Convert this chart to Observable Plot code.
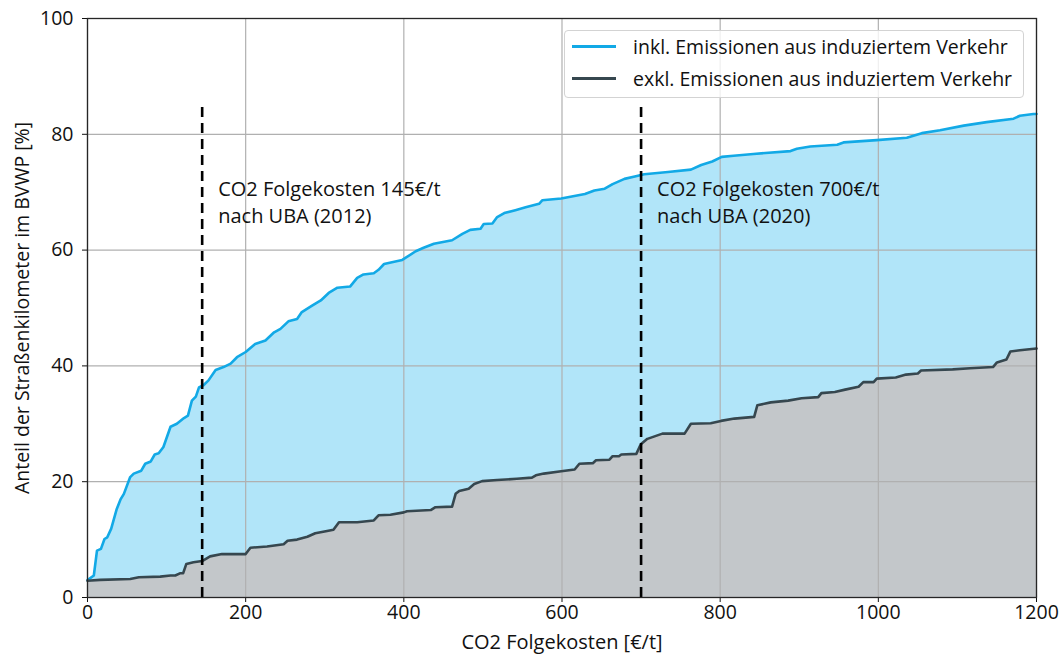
<!DOCTYPE html>
<html>
<head>
<meta charset="utf-8">
<script src="https://cdn.jsdelivr.net/npm/d3@7"></script>
<script src="https://cdn.jsdelivr.net/npm/@observablehq/plot@0.6"></script>
<style>
  html, body { margin: 0; padding: 0; background: white; }
  #wrap { position: relative; width: 1061px; height: 662px; font-family: "Open Sans", sans-serif; }
  #legend { position: absolute; left: 564px; top: 30px; width: 460px; height: 68px;
    border: 1px solid #d3d3d3; border-radius: 4px; background: rgba(255,255,255,0.8);
    box-sizing: border-box; font-size: 19.5px; color: #111; }
  .row { position: absolute; left: 0; height: 28px; width: 100%; }
  .sw { position: absolute; left: 7px; top: 12px; width: 44px; height: 3px; }
  .lbl { position: absolute; left: 68px; top: 0; line-height: 28px; white-space: nowrap; }
</style>
</head>
<body>
<div id="wrap"><div id="legend"></div></div>
<script>
// Data
const costIncl = [0,8,12,17,21.5,25,30,37,42,46,54,58.5,68,73,80,85,90,96,105,113,122,127,132,137,141,147,153,162,172,181,189,200,212,225,236,244,254,265,271,284,295,305,316,332,341,349,362,368,375,385,398,415,425,438,461,474,484,497,501,512,518,527,541,554,571,575,599,614,629,641,654,664,679,692,704,734,763,776,790,802,817,842,889,897,914,948,956,998,1036,1055,1078,1108,1137,1171,1179,1196,1200];
const shareIncl = [3.0,3.8,8.1,8.4,10.1,10.4,11.9,15.3,17.0,17.9,20.8,21.4,21.9,23.1,23.5,24.7,24.9,26.0,29.5,30.0,31.0,31.4,34.0,34.7,36.3,36.7,37.5,39.3,39.8,40.4,41.5,42.4,43.8,44.4,45.8,46.4,47.7,48.1,49.3,50.4,51.3,52.6,53.5,53.7,55.2,55.8,56.0,56.6,57.6,57.9,58.3,59.8,60.4,61.1,61.7,62.8,63.5,63.7,64.5,64.6,65.7,66.4,66.9,67.4,68.0,68.6,68.9,69.3,69.7,70.3,70.6,71.4,72.3,72.7,73.1,73.5,73.9,74.7,75.3,76.1,76.3,76.6,77.1,77.5,77.9,78.2,78.6,79.0,79.4,80.2,80.7,81.5,82.1,82.7,83.2,83.5,83.5];

const costExcl = [0,16,54,65,92,105,111,117.5,121,125,134,145,155,170,200,206,227,248,253,265,278,288,303,311,318,341,362,368,383,400,404,434,440,461,465.5,470,482,489,499,518,543,562,567,577,599,616,622,639,643,660,664,672,675,694,698,700,708,727,755,763,788,801,818,843,847,864,886,903,924,928,945,958,975,981,994,998,1022,1035,1050,1054,1094,1116,1145,1150,1162,1167,1179,1200];
const shareExcl = [2.9,3.05,3.2,3.5,3.6,3.8,3.8,4.2,4.2,5.8,6.1,6.3,7.1,7.5,7.5,8.6,8.8,9.2,9.8,10.0,10.5,11.1,11.5,11.7,13.0,13.0,13.3,14.2,14.3,14.7,14.9,15.1,15.6,15.7,17.9,18.4,18.8,19.6,20.1,20.3,20.5,20.7,21.1,21.4,21.8,22.1,23.1,23.2,23.7,23.8,24.4,24.4,24.7,24.8,26.0,26.5,27.4,28.3,28.3,30.0,30.1,30.5,30.9,31.2,33.2,33.7,34.0,34.4,34.6,35.3,35.5,35.9,36.4,37.2,37.2,37.8,38.0,38.5,38.7,39.2,39.4,39.6,39.8,40.6,41.1,42.5,42.7,43.0];

const thresholds = [145, 700];
const thresholdTop = 85;
const annotationLine1 = ["CO2 Folgekosten 145€/t", "CO2 Folgekosten 700€/t"];
const annotationLine2 = ["nach UBA (2012)", "nach UBA (2020)"];
const annotationY = 68.2;

const xTicks = [0, 200, 400, 600, 800, 1000, 1200];
const yTicks = [0, 20, 40, 60, 80, 100];
const seriesNames = ["inkl. Emissionen aus induziertem Verkehr", "exkl. Emissionen aus induziertem Verkehr"];
const xLabel = "CO2 Folgekosten [€/t]";
const yLabel = "Anteil der Straßenkilometer im BVWP [%]";

const colors = { inclLine: "#12a9e6", inclFill: "#b1e5f9", exclLine: "#36474f", exclFill: "#c3c7ca", grid: "#b0b0b0" };
const FS = 19.5;
const FSL = 20;

const incl = costIncl.map((c, i) => ({ cost: c, share: shareIncl[i] }));
const excl = costExcl.map((c, i) => ({ cost: c, share: shareExcl[i] }));
const ann1 = thresholds.map((t, i) => ({ x: t, y: annotationY, label: annotationLine1[i] }));
const ann2 = thresholds.map((t, i) => ({ x: t, y: annotationY, label: annotationLine2[i] }));

const chart = Plot.plot({
  width: 1061, height: 662,
  marginLeft: 87, marginRight: 25, marginTop: 18, marginBottom: 65,
  style: { fontFamily: "'Open Sans', sans-serif", fontSize: FS + "px", color: "#111", background: "white" },
  x: { domain: [0, 1200] },
  y: { domain: [0, 100] },
  marks: [
    Plot.areaY(incl, { x: "cost", y: "share", fill: colors.inclFill }),
    Plot.areaY(excl, { x: "cost", y: "share", fill: colors.exclFill }),
    Plot.gridX(xTicks, { stroke: colors.grid, strokeOpacity: 1, strokeWidth: 1.2 }),
    Plot.gridY(yTicks, { stroke: colors.grid, strokeOpacity: 1, strokeWidth: 1.2 }),
    Plot.lineY(incl, { x: "cost", y: "share", stroke: colors.inclLine, strokeWidth: 2.6 }),
    Plot.lineY(excl, { x: "cost", y: "share", stroke: colors.exclLine, strokeWidth: 2.6 }),
    Plot.ruleX(thresholds, { y1: 0, y2: thresholdTop, stroke: "#000", strokeWidth: 2.6, strokeDasharray: "10,6" }),
    Plot.text(ann1, { x: "x", y: "y", text: "label", textAnchor: "start", dx: 16, dy: -13.5, fontSize: FSL, fill: "#111" }),
    Plot.text(ann2, { x: "x", y: "y", text: "label", textAnchor: "start", dx: 16, dy: 13.5, fontSize: FSL, fill: "#111" }),
    Plot.axisX({ ticks: xTicks, tickSize: 5, tickPadding: 3, label: null, fontSize: FS, tickFormat: d => String(d) }),
    Plot.axisY({ ticks: yTicks, tickSize: 5, tickPadding: 9, label: null, fontSize: FS, tickFormat: d => String(d) }),
    Plot.frame({ stroke: "#262626", strokeWidth: 1.3 }),
    Plot.text([yLabel], { frameAnchor: "left", dx: -65, rotate: -90, text: d => d, textAnchor: "middle", fontSize: FS, fill: "#111" }),
    Plot.text([xLabel], { frameAnchor: "bottom", dy: 51, text: d => d, fontSize: FSL, fill: "#111" })
  ]
});
const wrap = document.getElementById("wrap");
wrap.insertBefore(chart, wrap.firstChild);

const legend = document.getElementById("legend");
[colors.inclLine, colors.exclLine].forEach((c, i) => {
  const row = document.createElement("div");
  row.className = "row";
  row.style.top = (i === 0 ? 2 : 34) + "px";
  row.innerHTML = `<div class="sw" style="background:${c}"></div><div class="lbl">${seriesNames[i]}</div>`;
  legend.appendChild(row);
});
</script>
</body>
</html>
